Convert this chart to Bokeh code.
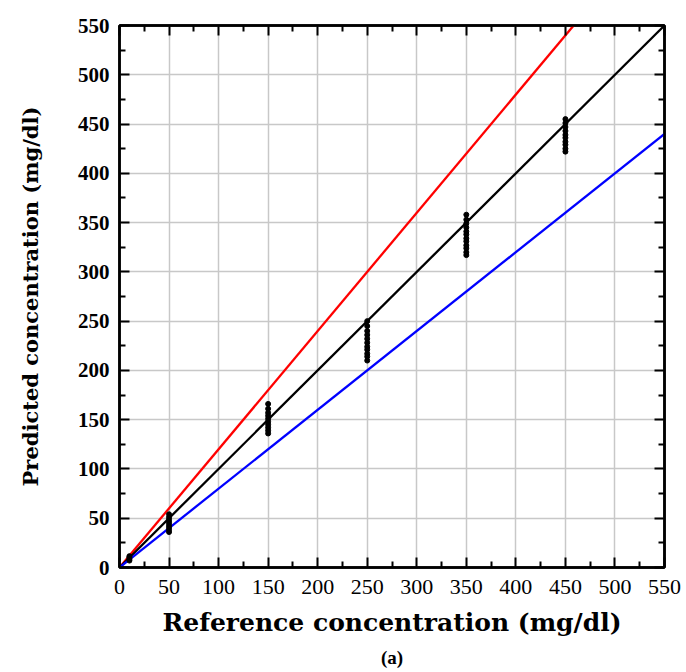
from bokeh.plotting import figure
from bokeh.models import Range1d, FixedTicker, LinearAxis, Title
from bokeh.embed import file_html
from bokeh.resources import INLINE

# reference concentrations of the measured groups
ref_10 = [10, 10, 10, 10]
pred_10 = [7, 8.5, 10, 11.5]
ref_50 = [50] * 8
pred_50 = [36, 38.5, 41, 43.5, 46, 48.5, 51, 54]
ref_150 = [150] * 10
pred_150 = [136, 139, 142, 145, 148, 151, 154, 157, 161, 166]
ref_250 = [250] * 11
pred_250 = [210, 214, 217, 221, 224, 228, 232, 236, 240, 245, 250]
ref_350 = [350] * 12
pred_350 = [317, 320, 324, 327, 331, 334, 338, 341, 345, 349, 353, 358]
ref_450 = [450] * 10
pred_450 = [422, 425, 429, 432, 436, 439, 443, 447, 451, 455]

line_x = [0, 550]
identity_y = [0, 550]
upper_y = [0, 660]   # +20 %
lower_y = [0, 440]   # -20 %

ticks = [0, 50, 100, 150, 200, 250, 300, 350, 400, 450, 500, 550]

SERIF = "Liberation Serif"
LABEL_FONT = "DejaVu Serif"

p = figure(width=686, height=672, output_backend="svg", toolbar_location=None,
           x_range=Range1d(0, 550), y_range=Range1d(0, 550),
           min_border_left=119, min_border_right=22, min_border_top=25, min_border_bottom=60)

p.outline_line_color = "black"
p.outline_line_width = 2.5

for g in (p.xgrid, p.ygrid):
    g.grid_line_color = "#c8c8c8"
    g.grid_line_width = 1.5
    g.ticker = FixedTicker(ticks=ticks)

def style(ax, labels=True):
    ax.ticker = FixedTicker(ticks=ticks, minor_ticks=[25 + 50 * i for i in range(11)])
    ax.axis_line_color = "black"
    ax.axis_line_width = 2.5
    ax.major_tick_in = 10
    ax.major_tick_out = 0
    ax.minor_tick_in = 6
    ax.minor_tick_out = 0
    ax.major_tick_line_width = 2
    ax.minor_tick_line_width = 2
    ax.major_tick_line_color = "black"
    ax.minor_tick_line_color = "black"
    if not labels:
        ax.major_label_text_font_size = "0px"
        ax.major_label_text_alpha = 0
    else:
        ax.major_label_text_font = SERIF
        ax.major_label_text_color = "black"

style(p.xaxis[0])
style(p.yaxis[0])
p.xaxis[0].major_label_text_font_size = "22px"
p.yaxis[0].major_label_text_font_size = "21px"
p.xaxis[0].major_label_standoff = 12
p.yaxis[0].major_label_standoff = 10
p.yaxis[0].major_label_text_font_style = "bold"

p.xaxis[0].axis_label = "Reference concentration (mg/dl)"
p.xaxis[0].axis_label_text_font = LABEL_FONT
p.xaxis[0].axis_label_text_font_style = "bold"
p.xaxis[0].axis_label_text_font_size = "25px"
p.xaxis[0].axis_label_text_color = "black"
p.xaxis[0].axis_label_standoff = 11

p.yaxis[0].axis_label = "Predicted concentration (mg/dl)"
p.yaxis[0].axis_label_text_font = LABEL_FONT
p.yaxis[0].axis_label_text_font_style = "bold"
p.yaxis[0].axis_label_text_font_size = "21px"
p.yaxis[0].axis_label_text_color = "black"
p.yaxis[0].axis_label_standoff = 32

top = LinearAxis()
right = LinearAxis()
style(top, labels=False)
style(right, labels=False)
p.add_layout(top, "above")
p.add_layout(right, "right")

p.line(line_x, upper_y, line_color="red", line_width=2.3)
p.line(line_x, identity_y, line_color="black", line_width=2.3)
p.line(line_x, lower_y, line_color="blue", line_width=2.3)

xs = ref_10 + ref_50 + ref_150 + ref_250 + ref_350 + ref_450
ys = pred_10 + pred_50 + pred_150 + pred_250 + pred_350 + pred_450
p.scatter(xs, ys, size=5, color="black")

p.add_layout(Title(text="(a)", align="center", text_font=SERIF, text_font_style="bold",
                   text_font_size="19px", text_color="black"), "below")

open("out.html", "w").write(file_html(p, INLINE))
